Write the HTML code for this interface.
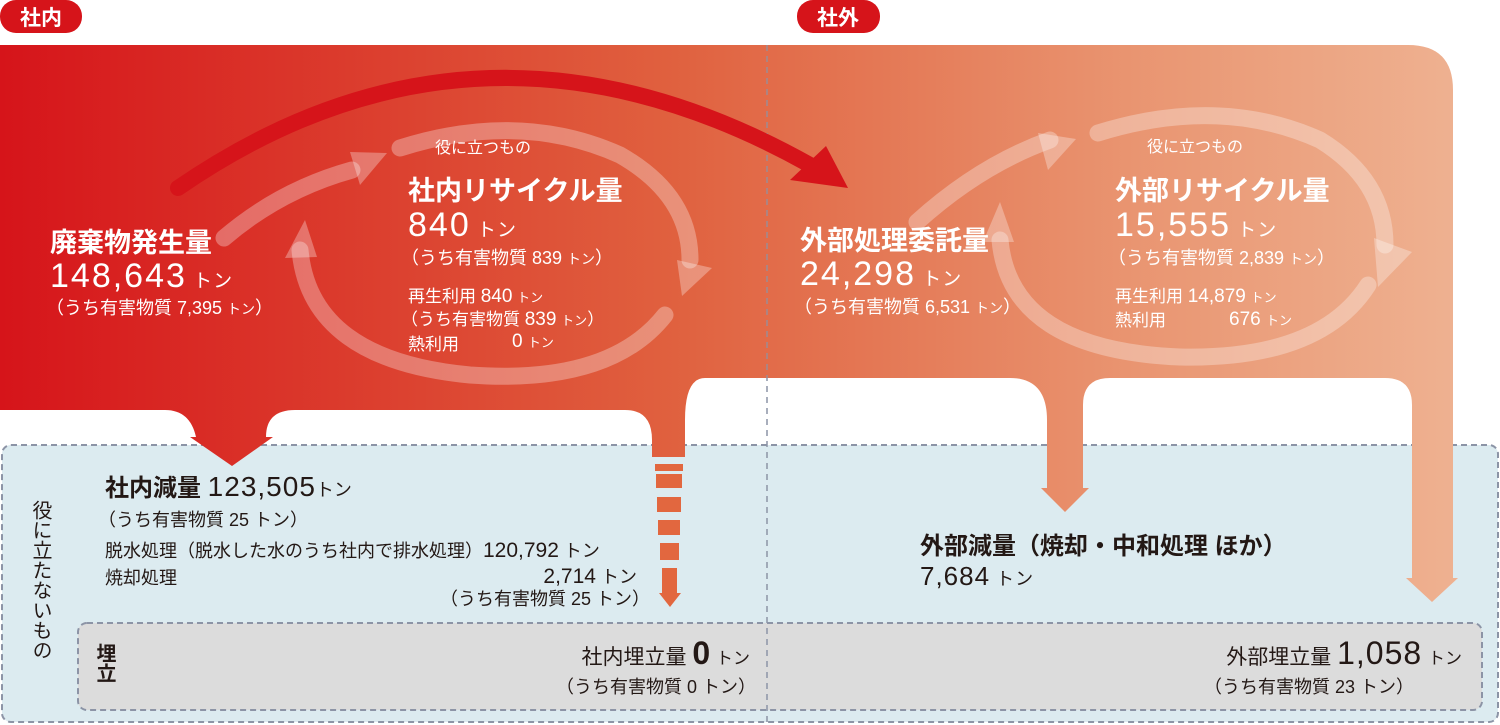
<!DOCTYPE html>
<html><head><meta charset="utf-8"><style>
html,body{margin:0;padding:0;background:#fff;}
svg{display:block;}
text{font-family:"Liberation Sans","Noto Sans CJK JP",sans-serif;}
.w{fill:#fff;}
.d{fill:#231815;}
</style></head><body>
<svg width="1500" height="725" viewBox="0 0 1500 725" xmlns="http://www.w3.org/2000/svg">
<defs>
<linearGradient id="g" x1="0" y1="0" x2="1500" y2="0" gradientUnits="userSpaceOnUse">
<stop offset="0" stop-color="#d6141a"/>
<stop offset="0.45" stop-color="#e0613f"/>
<stop offset="0.75" stop-color="#e99470"/>
<stop offset="1" stop-color="#efb595"/>
</linearGradient>
</defs>
<rect x="2" y="445" width="1496" height="277" rx="9" fill="#dcebf0" stroke="#8c94a6" stroke-width="2" stroke-dasharray="6,4"/>
<rect x="78" y="623" width="1404" height="87" rx="9" fill="#dcdcdc" stroke="#8c94a6" stroke-width="2" stroke-dasharray="6,4"/>
<line x1="767" y1="45" x2="767" y2="725" stroke="#8c94a6" stroke-width="1.5" stroke-dasharray="6,5"/>
<path fill="url(#g)" d="M0,45 H1408 Q1453,45 1453,90 V578 H1458 L1432,602 L1406,578 H1412 V405 Q1412,378 1385,378 H1110 Q1083,378 1083,405 V488 H1089 L1065,512 L1041,488 H1047 V420 Q1047,378 1010,378 H705 Q685,378 685,420 V457 H652 V440 Q652,410 625,410 H295 Q266,410 266,437 H273 L232,466 L190,437 H196 Q190,410 165,410 H0 Z"/>
<g fill="#e2673f">
<rect x="655" y="464" width="28" height="7"/>
<rect x="656" y="474" width="26" height="14"/>
<rect x="657" y="497" width="24" height="15"/>
<rect x="658" y="520" width="22" height="15"/>
<rect x="660" y="543" width="19" height="17"/>
<rect x="662" y="568" width="15" height="25"/>
<path d="M659,593 H681 L670,607 Z"/>
</g>
<line x1="767" y1="45" x2="767" y2="378" stroke="#8c94a6" stroke-width="1.5" stroke-dasharray="6,5" opacity="0.8"/>
<path d="M178,188 Q480,-20 810,165" fill="none" stroke="#d6141a" stroke-width="16" stroke-linecap="round"/>
<path d="M848,188 L790,180 L826,146 Z" fill="#d6141a"/>
<g fill="none" stroke="#fff" stroke-opacity="0.3" stroke-width="17" stroke-linecap="round">
<path d="M224,238 Q280,190 352,170"/>
<path d="M400,148 Q520,110 620,155 Q690,195 690,260"/>
<path d="M665,315 Q610,385 470,375 Q310,360 300,250"/>
</g>
<g fill="#fff" fill-opacity="0.3">
<path d="M387,153 L350,152 L360,185 Z"/>
<path d="M712,268 L682,296 L677,260 Z"/>
<path d="M305,220 L285,258 L317,257 Z"/>
</g>
<g fill="none" stroke="#fff" stroke-opacity="0.3" stroke-width="17" stroke-linecap="round">
<path d="M917,222 Q980,165 1050,140"/>
<path d="M1098,133 Q1220,95 1320,140 Q1385,180 1385,245"/>
<path d="M1368,285 Q1320,360 1180,357 Q1010,350 1000,240"/>
</g>
<g fill="#fff" fill-opacity="0.3">
<path d="M1076,139 L1038,133 L1048,170 Z"/>
<path d="M1412,252 L1378,287 L1374,238 Z"/>
<path d="M1000,202 L983,242 L1014,242 Z"/>
</g>
<rect x="0" y="0" width="82" height="33" rx="16" fill="#d6141a"/>
<text x="41" y="25" text-anchor="middle" class="w" font-size="21" font-weight="bold">社内</text>
<rect x="797" y="0" width="83" height="33" rx="16" fill="#d6141a"/>
<text x="838" y="25" text-anchor="middle" class="w" font-size="21" font-weight="bold">社外</text>
<text x="50" y="252" class="w" font-size="27" font-weight="bold">廃棄物発生量</text>
<text x="50" y="287" class="w" font-size="34" letter-spacing="2">148,643<tspan font-size="19" letter-spacing="1"> トン</tspan></text>
<text x="46" y="314" class="w" font-size="18">（うち有害物質 7,395 <tspan font-size="14">トン</tspan>）</text>
<text x="435" y="153" class="w" font-size="16">役に立つもの</text>
<text x="408" y="200" class="w" font-size="27" font-weight="bold">社内リサイクル量</text>
<text x="408" y="236" class="w" font-size="34" letter-spacing="2">840<tspan font-size="19" letter-spacing="1"> トン</tspan></text>
<text x="401" y="264" class="w" font-size="18">（うち有害物質 839 <tspan font-size="14">トン</tspan>）</text>
<text x="408" y="302" class="w" font-size="17">再生利用 <tspan font-size="19">840</tspan> <tspan font-size="13">トン</tspan></text>
<text x="401" y="325" class="w" font-size="17">（うち有害物質 <tspan font-size="19">839</tspan> <tspan font-size="13">トン</tspan>）</text>
<text x="408" y="350" class="w" font-size="17">熱利用</text>
<text x="512" y="347" class="w" font-size="19">0 <tspan font-size="13">トン</tspan></text>
<text x="800" y="250" class="w" font-size="27" font-weight="bold">外部処理委託量</text>
<text x="800" y="285" class="w" font-size="34" letter-spacing="2">24,298<tspan font-size="19" letter-spacing="1"> トン</tspan></text>
<text x="794" y="313" class="w" font-size="18">（うち有害物質 6,531 <tspan font-size="14">トン</tspan>）</text>
<text x="1147" y="152" class="w" font-size="16">役に立つもの</text>
<text x="1115" y="200" class="w" font-size="27" font-weight="bold">外部リサイクル量</text>
<text x="1115" y="236" class="w" font-size="34" letter-spacing="2">15,555<tspan font-size="19" letter-spacing="1"> トン</tspan></text>
<text x="1108" y="264" class="w" font-size="18">（うち有害物質 2,839 <tspan font-size="14">トン</tspan>）</text>
<text x="1115" y="302" class="w" font-size="17">再生利用 <tspan font-size="19">14,879</tspan> <tspan font-size="13">トン</tspan></text>
<text x="1115" y="326" class="w" font-size="17">熱利用</text>
<text x="1229" y="325" class="w" font-size="19">676 <tspan font-size="13">トン</tspan></text>
<text x="105" y="496" class="d" font-size="24"><tspan font-weight="bold">社内減量</tspan> <tspan font-size="28" letter-spacing="1">123,505</tspan><tspan font-size="18">トン</tspan></text>
<text x="98" y="526" class="d" font-size="18">（うち有害物質 25 トン）</text>
<text x="105" y="557" class="d" font-size="18">脱水処理（脱水した水のうち社内で排水処理）<tspan font-size="21">120,792</tspan> トン</text>
<text x="105" y="584" class="d" font-size="18">焼却処理</text>
<text x="637" y="583" text-anchor="end" class="d" font-size="18"><tspan font-size="21">2,714</tspan> トン</text>
<text x="650" y="605" text-anchor="end" class="d" font-size="18">（うち有害物質 25 トン）</text>
<text class="d" font-size="20" x="40" y="500" style="writing-mode:vertical-rl">役に立たないもの</text>
<text class="d" font-size="20" font-weight="bold" x="104" y="643" style="writing-mode:vertical-rl">埋立</text>
<text x="750" y="664" text-anchor="end" class="d" font-size="21">社内埋立量 <tspan font-size="32" font-weight="bold">0</tspan> <tspan font-size="17">トン</tspan></text>
<text x="756" y="693" text-anchor="end" class="d" font-size="18">（うち有害物質 0 トン）</text>
<text x="920" y="554" class="d" font-size="24" font-weight="bold">外部減量（焼却・中和処理 ほか）</text>
<text x="920" y="585" class="d" font-size="26" letter-spacing="1">7,684<tspan font-size="18"> トン</tspan></text>
<text x="1462" y="664" text-anchor="end" class="d" font-size="21">外部埋立量 <tspan font-size="32" letter-spacing="1">1,058</tspan> <tspan font-size="17">トン</tspan></text>
<text x="1414" y="693" text-anchor="end" class="d" font-size="18">（うち有害物質 23 トン）</text>
</svg>
</body></html>
